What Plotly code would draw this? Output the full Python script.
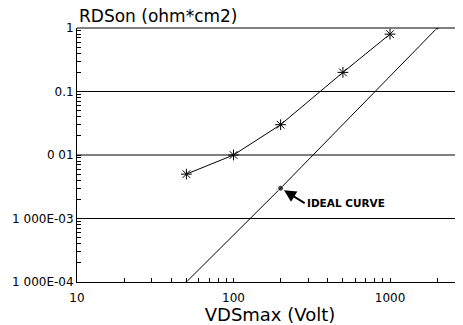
import plotly.graph_objects as go
import math

# Data
vds_measured = [50, 100, 200, 500, 1000]
rds_measured = [0.005, 0.01, 0.03, 0.2, 0.8]

vds_ideal = [50, 200, 2000]
rds_ideal = [1e-4, 0.003, 1.0]
ideal_marker_sizes = [3, 6, 4]

y_decades = [1e-4, 1e-3, 1e-2, 1e-1, 1]
y_decade_labels = ["1 000E-04", "1 000E-03", "0 01", "0.1", "1"]
x_decades = [10, 100, 1000]
x_decade_labels = ["10", "100", "1000"]

font_family = "DejaVu Sans, Verdana, sans-serif"

# all tick positions (decades labelled, in-between values unlabelled)
x_ticks, x_text = [], []
for d in range(1, 4):
    for m in range(1, 10):
        v = m * 10 ** d
        if v < 3000:
            x_ticks.append(v)
            x_text.append(x_decade_labels[x_decades.index(v)] if v in x_decades else "")
y_ticks, y_text = [], []
for d in range(-4, 1):
    for m in range(1, 10):
        v = round(m * 10.0 ** d, 6)
        if v <= 1:
            y_ticks.append(v)
            y_text.append(y_decade_labels[d + 4] if m == 1 else "")

fig = go.Figure()
fig.add_trace(go.Scatter(
    x=vds_measured, y=rds_measured, mode="lines+markers",
    line=dict(color="black", width=1),
    marker=dict(symbol="asterisk-open", size=9, color="black",
                line=dict(color="black", width=1)),
    showlegend=False,
))
fig.add_trace(go.Scatter(
    x=vds_ideal, y=rds_ideal, mode="lines+markers",
    line=dict(color="black", width=1),
    marker=dict(symbol="circle", size=ideal_marker_sizes, color="black"),
    showlegend=False,
))

# horizontal gridlines at decades
for v in y_decades[1:-1]:
    fig.add_shape(type="line", xref="paper", yref="y", x0=0, x1=1, y0=v, y1=v,
                  line=dict(color="black", width=1), layer="below")
fig.add_shape(type="line", xref="paper", yref="paper", x0=0, x1=1, y0=1, y1=1,
              line=dict(color="black", width=1))

fig.add_annotation(
    x=math.log10(200), y=math.log10(0.003), xref="x", yref="y",
    text="<b>IDEAL CURVE</b>", showarrow=True,
    ax=24, ay=15, axref="pixel", ayref="pixel",
    xanchor="left", yanchor="middle",
    arrowhead=2, arrowsize=1.2, arrowwidth=2, arrowcolor="black",
    standoff=4,
    font=dict(family=font_family, size=10.5, color="black"),
)

fig.add_annotation(
    x=0, y=1, xref="paper", yref="paper", xanchor="left", yanchor="bottom",
    yshift=0, text="RDSon (ohm*cm2)", showarrow=False,
    font=dict(family=font_family, size=17, color="black"),
)

fig.update_xaxes(
    type="log", range=[1, math.log10(2926)], automargin=False,
    tickmode="array", tickvals=x_ticks, ticktext=x_text,
    ticks="inside", ticklen=4, tickcolor="black", ticklabelstandoff=5,
    showgrid=False, showline=True, linecolor="black", linewidth=1,
    zeroline=False,
    tickfont=dict(family=font_family, size=12, color="black"),
    title=dict(text="VDSmax (Volt)", font=dict(family=font_family, size=18, color="black"), standoff=4),
)
fig.update_yaxes(
    type="log", range=[-4, 0], automargin=False,
    tickmode="array", tickvals=y_ticks, ticktext=y_text,
    ticks="inside", ticklen=4, tickcolor="black",
    showgrid=False, showline=True, linecolor="black", linewidth=1,
    zeroline=False,
    tickfont=dict(family=font_family, size=12, color="black"),
)

# page body has an 8px margin, so shrink and shift to land plot area where reference has it
fig.update_layout(
    width=455, height=317,
    margin=dict(l=69, r=0, t=20, b=43),
    plot_bgcolor="white", paper_bgcolor="white",
)

fig.write_html("out.html")
